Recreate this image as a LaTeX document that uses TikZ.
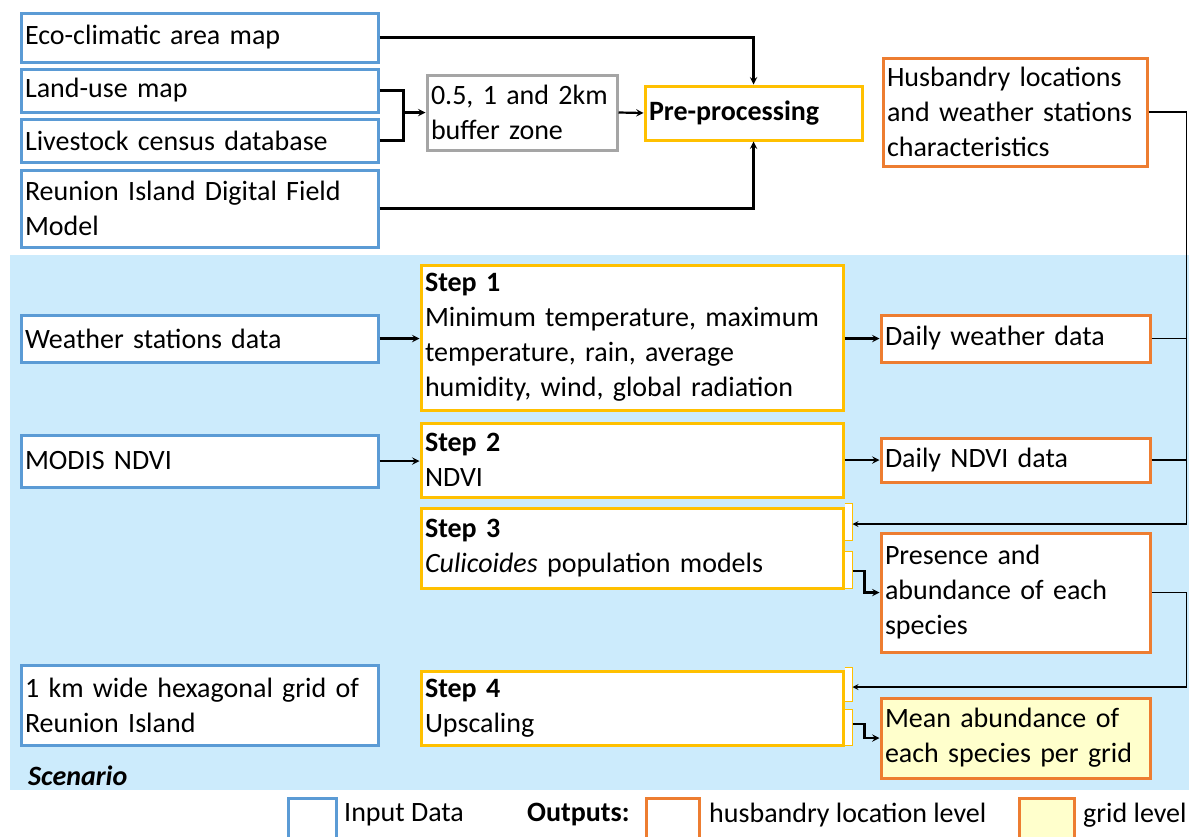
\documentclass[tikz,border=0pt]{standalone}
\usepackage{fontspec}
\setmainfont{Carlito}
\definecolor{inblue}{RGB}{91,155,213}
\definecolor{stepyellow}{RGB}{255,192,0}
\definecolor{outorange}{RGB}{237,125,49}
\definecolor{gridfill}{RGB}{255,255,204}
\definecolor{buffergray}{RGB}{165,165,165}
\definecolor{scenblue}{RGB}{204,235,252}
\tikzset{
	box/.style={draw, line width=3pt, fill=white, anchor=north west, inner xsep=4pt, inner ysep=0pt, align=left, font=\fontsize{28}{35}\selectfont},
	inbox/.style={box, draw=inblue},
	stepbox/.style={box, draw=stepyellow},
	outbox/.style={box, draw=outorange},
	gridbox/.style={outbox, fill=gridfill},
	link/.style={->, line width=2.2pt},
	rail/.style={line width=1.6pt},
	legend/.style={anchor=west, inner sep=0pt, font=\fontsize{28}{35}\selectfont},
}
\begin{document}
\begin{tikzpicture}[>=stealth, x=1pt, y=-1pt]
	\useasboundingbox (0,0) rectangle (1199,836);
	\fill[scenblue] (10,255) rectangle (1189,790);
	% pre-processing part
	\node[inbox, text width=349pt, minimum height=49pt] (eco) at (19.5,11.5) {Eco-climatic area map};
	\node[inbox, text width=349pt, minimum height=43pt] (land) at (19.5,67.5) {Land-use map};
	\node[inbox, text width=349pt, minimum height=43pt] (live) at (19.5,117.5) {Livestock census database};
	\node[inbox, text width=349pt, minimum height=77pt] (dfm) at (19.5,168.5) {Reunion Island Digital Field\\Model};
	\node[box, draw=buffergray, text width=182pt, minimum height=75pt] (buffer) at (425.5,73.5) {0.5, 1 and 2km\\buffer zone};
	\node[stepbox, text width=209pt, minimum height=54pt, font=\fontsize{28}{35}\selectfont\bfseries] (prep) at (643.5,84.5) {Pre-processing};
	\node[outbox, text width=256pt, minimum height=108pt] (husb) at (881.5,56.5) {Husbandry locations\\and weather stations\\characteristics};
	% scenario part
	\node[inbox, text width=349pt, minimum height=47pt] (wsd) at (19.5,313.5) {Weather stations data};
	\node[stepbox, text width=414pt, minimum height=145pt] (step1) at (419.5,263.5) {\textbf{Step 1}\\Minimum temperature, maximum\\temperature, rain, average\\humidity, wind, global radiation};
	\node[outbox, text width=261pt, minimum height=47pt] (dwd) at (879.5,313.5) {Daily weather data};
	\node[inbox, text width=349pt, minimum height=52pt] (modis) at (19.5,433.5) {MODIS NDVI};
	\node[stepbox, text width=414pt, minimum height=74pt] (step2) at (419.5,421.5) {\textbf{Step 2}\\NDVI};
	\node[outbox, text width=261pt, minimum height=44pt] (ndvi) at (879.5,436.5) {Daily NDVI data};
	\node[stepbox, text width=414pt, minimum height=80pt] (step3) at (419.5,506.5) {\textbf{Step 3}\\\textit{Culicoides} population models};
	\node[outbox, text width=261pt, minimum height=119pt] (pres) at (879.5,531.5) {Presence and\\abundance of each\\species};
	\node[inbox, text width=349pt, minimum height=80pt] (hex) at (19.5,663.5) {1 km wide hexagonal grid of\\Reunion Island};
	\node[stepbox, text width=414pt, minimum height=74pt] (step4) at (419.5,669.5) {\textbf{Step 4}\\Upscaling};
	\node[gridbox, text width=261pt, minimum height=80pt] (mean) at (879.5,696.5) {Mean abundance of\\each species per grid};
	\node[legend, font=\fontsize{28}{35}\selectfont\bfseries\itshape] (scen) at (28,776) {Scenario};
	% small connection brackets
	\draw[stepyellow, thin, fill=white] (step3.north east) ++(0,-3) -| ++(8,37) -- ++(-8,0);
	\draw[stepyellow, thin, fill=white] (step3.south east) ++(0,-1) -| ++(8,-37) -- ++(-8,0);
	\draw[stepyellow, thin, fill=white] (step4.north east) ++(0,-2) -| ++(8,34) -- ++(-8,0);
	\draw[stepyellow, thin, fill=white] (step4.south east) ++(0,-1) -| ++(8,-36) -- ++(-8,0);
	\coordinate (s3in) at ([xshift=8pt,yshift=24pt]step3.east);
	\coordinate (s3out) at ([xshift=8pt,yshift=-23pt]step3.east);
	\coordinate (s4in) at ([xshift=8pt,yshift=21pt]step4.east);
	\coordinate (s4out) at ([xshift=8pt,yshift=-16pt]step4.east);
	\coordinate (rail) at ([xshift=38pt]husb.east);
	\coordinate (join) at ([xshift=-22pt]buffer.west);
	% connectors
	\draw[link] (eco.east) -| (prep.north);
	\draw[link] (dfm.east) -| (prep.south);
	\draw[line width=2.2pt] (land.east) -| (join);
	\draw[line width=2.2pt] (live.east) -| (join);
	\draw[link] (join) -- (buffer.west);
	\draw[link] (buffer.east) -- (prep.west);
	\draw[link] (wsd.east) -- (wsd.east -| step1.west);
	\draw[link] (step1.east |- dwd.west) -- (dwd.west);
	\draw[link] (modis.east) -- (modis.east -| step2.west);
	\draw[link] (step2.east |- ndvi.west) -- (ndvi.west);
	\draw[rail] (dwd.east) -- (dwd.east -| rail);
	\draw[rail] (ndvi.east) -- (ndvi.east -| rail);
	\draw[rail, ->] (husb.east) -- (rail) |- (s3in);
	\draw[link] (s3out) -- ++(12,0) |- (pres.west);
	\draw[rail, ->] (pres.east) -- (pres.east -| rail) |- (s4in);
	\draw[link] (s4out) -- ++(12,0) |- (mean.west);
	% legend
	\draw[inblue, line width=3pt] (288,798) rectangle (336,845);
	\node[legend] (lin) at (344,815) {Input Data};
	\node[legend, font=\fontsize{28}{35}\selectfont\bfseries] (lout) at (527,815) {Outputs:};
	\draw[outorange, line width=3pt] (646,798) rectangle (699,845);
	\node[legend] (lhusb) at (709,815) {husbandry location level};
	\draw[outorange, fill=gridfill, line width=3pt] (1019,798) rectangle (1074,845);
	\node[legend] (lgrid) at (1083,815) {grid level};
\end{tikzpicture}
\end{document}
